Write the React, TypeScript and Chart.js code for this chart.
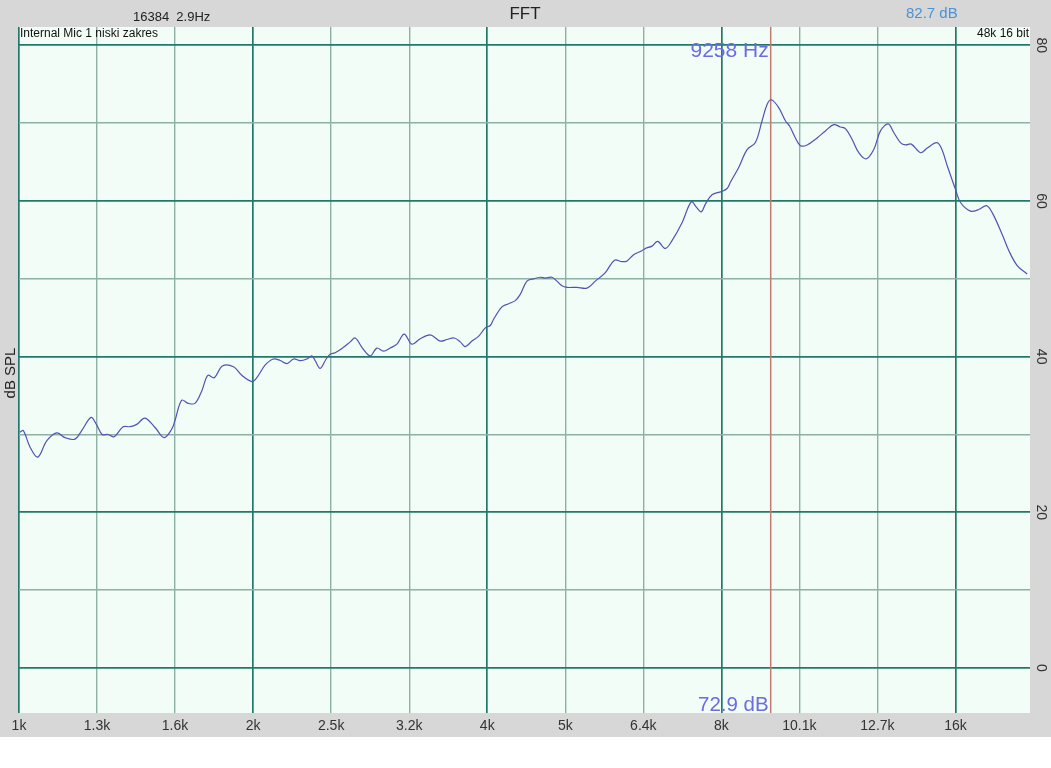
import React, { useEffect, useRef } from "react";
import { Chart, registerables } from "chart.js";

Chart.register(...registerables);

// Frequency (Hz) of each traced point of the FFT curve
const freqs = [
  1003, 1013, 1033, 1057, 1086, 1118, 1146, 1180, 1204, 1238, 1259, 1279, 1302, 1325,
  1361, 1389, 1417, 1452, 1496, 1537, 1572, 1587, 1619, 1651, 1684, 1718, 1749, 1783,
  1826, 1887, 1934, 1992, 2022, 2072, 2124, 2167, 2210, 2254, 2299, 2345, 2380, 2403,
  2439, 2483, 2512, 2550, 2613, 2666, 2706, 2760, 2828, 2885, 2942, 3001, 3061, 3128,
  3200, 3280, 3379, 3480, 3550, 3628, 3693, 3748, 3823, 3898, 3977, 4036, 4076, 4178,
  4261, 4346, 4411, 4499, 4588, 4680, 4750, 4845, 4917, 4991, 5065, 5218, 5374, 5508,
  5674, 5832, 5962, 6051, 6170, 6294, 6388, 6516, 6625, 6777, 6913, 7121, 7320, 7429,
  7540, 7630, 7783, 8000, 8137, 8217, 8421, 8633, 8848, 9025, 9160, 9277, 9480, 9670,
  9794, 9961, 10109, 10312, 10622, 10887, 11158, 11381, 11551, 11783, 12015, 12282,
  12561, 12813, 13109, 13328, 13595, 13803, 14038, 14430, 14719, 15131, 15343, 15618,
  16000, 16239, 16727, 17144, 17539, 17838, 18374, 18742, 19209, 19786,
];

// Level (dB SPL) at each frequency above
const levels = [
  30.3, 30.5, 28.4, 27.1, 29.2, 30.2, 29.6, 29.4, 30.5, 32.2, 31.2, 30.0, 30.0, 29.7,
  31.0, 31.0, 31.3, 32.1, 30.9, 29.6, 30.7, 31.8, 34.4, 34.0, 34.0, 35.6, 37.6, 37.3,
  38.8, 38.7, 37.6, 36.8, 37.3, 38.9, 39.7, 39.5, 39.1, 39.7, 39.5, 39.7, 40.1, 39.5,
  38.5, 39.7, 40.3, 40.5, 41.2, 41.9, 42.4, 41.2, 40.1, 41.1, 40.7, 41.1, 41.6, 42.9,
  41.6, 42.3, 42.8, 42.0, 42.2, 42.4, 41.9, 41.3, 42.0, 42.6, 43.7, 44.0, 44.8, 46.4,
  46.8, 47.2, 48.0, 49.7, 50.0, 50.2, 50.1, 50.2, 49.7, 49.1, 48.9, 48.9, 48.8, 49.7,
  50.8, 52.4, 52.2, 52.3, 53.1, 53.5, 53.9, 54.2, 54.8, 53.9, 54.9, 57.2, 59.9, 59.2,
  58.6, 59.6, 60.8, 61.2, 61.6, 62.4, 64.3, 66.6, 67.5, 70.3, 72.4, 73.0, 72.0, 70.3,
  69.6, 68.1, 67.1, 67.2, 68.1, 69.0, 69.8, 69.5, 69.3, 67.9, 66.2, 65.4,
  66.6, 69.0, 69.9, 68.8, 67.5, 67.2, 67.3, 66.2, 66.8, 67.5, 66.8, 64.5,
  61.5, 59.8, 58.7, 58.9, 59.4, 58.5, 55.7, 53.6, 51.7, 50.6,
];

const xTickValues = [1000, 1260, 1587, 2000, 2520, 3175, 4000, 5040, 6350, 8000, 10079, 12699, 16000];
const xTickLabels = ["1k", "1.3k", "1.6k", "2k", "2.5k", "3.2k", "4k", "5k", "6.4k", "8k", "10.1k", "12.7k", "16k"];
const xOctaveTicks = [1000, 2000, 4000, 8000, 16000];
const yTickValues = [0, 10, 20, 30, 40, 50, 60, 70, 80];
const yLabelledTicks = [0, 20, 40, 60, 80];

const cursorFreq = 9258;
const cursorFreqLabel = "9258 Hz";
const cursorLevelLabel = "72.9 dB";
const titleText = "FFT";
const fftInfoText = "16384  2.9Hz";
const peakText = "82.7 dB";
const sourceText = "Internal Mic 1 niski zakres";
const formatText = "48k 16 bit";
const yTitleText = "dB SPL";

const FONT = "'Liberation Sans', Arial, Helvetica, sans-serif";
const DARK_GRID = "#22796b";
const LIGHT_GRID = "#8db0a7";

export default function App() {
  const canvasRef = useRef<HTMLCanvasElement | null>(null);

  useEffect(() => {
    const canvas = canvasRef.current;
    if (!canvas) return;

    const backgroundPlugin = {
      id: "fftBackground",
      beforeDraw(chart: any) {
        const { ctx, chartArea, width, height } = chart;
        ctx.save();
        ctx.fillStyle = "#ffffff";
        ctx.fillRect(0, 0, width, height);
        ctx.fillStyle = "#d7d7d7";
        ctx.fillRect(0, 0, width, 737);
        ctx.fillStyle = "#f1fdf6";
        ctx.fillRect(chartArea.left, chartArea.top, chartArea.right - chartArea.left, chartArea.bottom - chartArea.top);
        ctx.restore();
      },
      beforeDatasetsDraw(chart: any) {
        const { ctx, chartArea, scales } = chart;
        const x = scales.x.getPixelForValue(cursorFreq);
        ctx.save();
        ctx.strokeStyle = "#c47a6e";
        ctx.lineWidth = 1.5;
        ctx.beginPath();
        ctx.moveTo(x, chartArea.top);
        ctx.lineTo(x, chartArea.bottom);
        ctx.stroke();
        ctx.restore();
      },
      afterDraw(chart: any) {
        const { ctx, chartArea, scales } = chart;
        const x = scales.x.getPixelForValue(cursorFreq);
        ctx.save();
        ctx.textBaseline = "middle";

        ctx.fillStyle = "#222";
        ctx.font = `17px ${FONT}`;
        ctx.textAlign = "center";
        ctx.fillText(titleText, 525, 14);

        ctx.font = `13px ${FONT}`;
        ctx.textAlign = "left";
        ctx.fillText(fftInfoText, 133, 17);

        ctx.fillStyle = "#4b92d6";
        ctx.font = `15px ${FONT}`;
        ctx.fillText(peakText, 906, 14);

        ctx.fillStyle = "#111";
        ctx.font = `12px ${FONT}`;
        ctx.fillText(sourceText, chartArea.left + 1, chartArea.top + 7);
        ctx.textAlign = "right";
        ctx.fillText(formatText, chartArea.right - 1, chartArea.top + 7);

        ctx.fillStyle = "#6b6be2";
        ctx.font = `21px ${FONT}`;
        ctx.textAlign = "right";
        ctx.fillText(cursorFreqLabel, x - 2, chartArea.top + 24);
        ctx.font = `20.5px ${FONT}`;
        ctx.fillText(cursorLevelLabel, x - 2, chartArea.bottom - 8);

        ctx.fillStyle = "#222";
        ctx.font = `15px ${FONT}`;
        ctx.textAlign = "center";
        ctx.translate(11, (chartArea.top + chartArea.bottom) / 2 + 3);
        ctx.rotate(-Math.PI / 2);
        ctx.fillText(yTitleText, 0, 0);
        ctx.restore();
      },
    };

    const chart = new Chart(canvas, {
      type: "line",
      data: {
        datasets: [
          {
            data: freqs.map((f, i) => ({ x: f, y: levels[i] })),
            borderColor: "#5252b4",
            borderWidth: 1.2,
            pointRadius: 0,
            tension: 0.35,
            fill: false,
          },
        ],
      },
      options: {
        animation: false,
        responsive: false,
        maintainAspectRatio: false,
        layout: { padding: { left: 19, top: 27, right: 0, bottom: 0 } },
        plugins: {
          legend: { display: false },
          tooltip: { enabled: false },
          title: { display: false },
        },
        scales: {
          x: {
            type: "logarithmic",
            min: 1000,
            max: 19950,
            afterBuildTicks: (scale: any) => {
              scale.ticks = xTickValues.map((v) => ({ value: v }));
            },
            afterFit: (scale: any) => {
              scale.height = 55;
            },
            border: { display: false },
            grid: {
              drawTicks: false,
              color: (c: any) => (xOctaveTicks.includes(c.tick?.value) ? DARK_GRID : LIGHT_GRID),
              lineWidth: (c: any) => (xOctaveTicks.includes(c.tick?.value) ? 1.7 : 1.4),
            },
            ticks: {
              autoSkip: false,
              maxRotation: 0,
              minRotation: 0,
              padding: 5,
              color: "#333",
              font: { family: FONT, size: 14 },
              callback: (_v: any, i: number) => xTickLabels[i],
            },
          },
          y: {
            type: "linear",
            position: "right",
            min: -5.78,
            max: 82.35,
            afterBuildTicks: (scale: any) => {
              scale.ticks = yTickValues.map((v) => ({ value: v }));
            },
            afterFit: (scale: any) => {
              scale.width = 21;
            },
            border: { display: false },
            grid: {
              drawTicks: false,
              color: (c: any) => (yLabelledTicks.includes(c.tick?.value) ? DARK_GRID : LIGHT_GRID),
              lineWidth: (c: any) => (yLabelledTicks.includes(c.tick?.value) ? 1.7 : 1.4),
            },
            ticks: {
              autoSkip: false,
              minRotation: -90,
              maxRotation: -90,
              crossAlign: "center",
              padding: 3,
              color: "#333",
              font: { family: FONT, size: 14 },
              callback: (v: any) => (yLabelledTicks.includes(Number(v)) ? String(v) : ""),
            },
          },
        },
      },
      plugins: [backgroundPlugin],
    } as any);

    return () => {
      chart.destroy();
    };
  }, []);

  return (
    <div style={{ position: "absolute", left: 0, top: 0, width: 1051, height: 768 }}>
      <canvas ref={canvasRef} width={1051} height={768} style={{ display: "block", width: 1051, height: 768 }} />
    </div>
  );
}
